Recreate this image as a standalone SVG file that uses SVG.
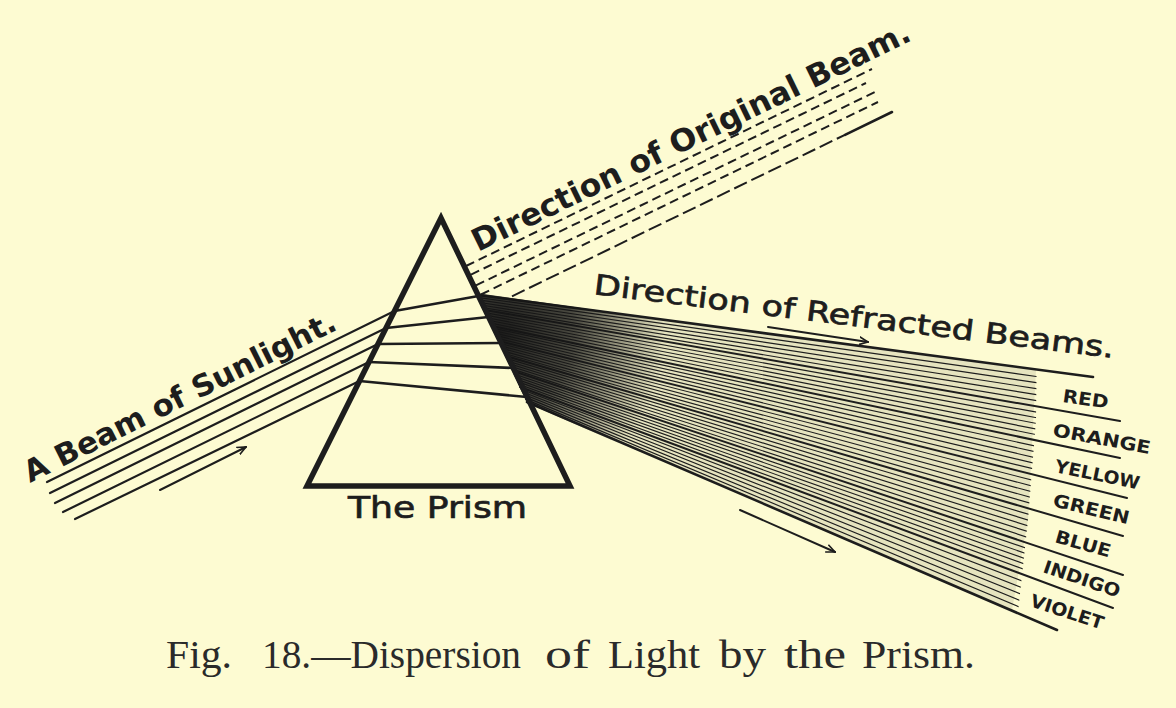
<svg xmlns="http://www.w3.org/2000/svg" width="1176" height="708" viewBox="0 0 1176 708">
<style>
.ink{stroke:#1d1d1d;fill:none;stroke-linecap:round}
.thin{stroke-width:1.15}
.bnd{stroke-width:2}
.inc{stroke-width:2.2}
.dash{stroke-width:2;stroke-dasharray:9 5;stroke-linecap:butt}
.bold{font-family:"DejaVu Sans",sans-serif;font-weight:bold;fill:#1d1d1d}
.med{font-family:"DejaVu Sans",sans-serif;fill:#1d1d1d;stroke:#1d1d1d;stroke-width:0.7}
.col{font-family:"DejaVu Sans",sans-serif;font-weight:bold;font-size:18px;fill:#1d1d1d}
.cap{font-family:"Liberation Serif",serif;font-size:39px;fill:#2a2a2a}
</style>
<defs>
<marker id="arr" viewBox="0 0 10 10" refX="9" refY="5" markerWidth="10" markerHeight="10" markerUnits="userSpaceOnUse" orient="auto">
<path d="M0,1 L9,5 L0,9" fill="none" stroke="#1d1d1d" stroke-width="1.6"/>
</marker>
<clipPath id="thinclip">
<polygon points="460,240 1038,240 1036,420 1028,520 1015,640 460,660"/>
</clipPath>
<clipPath id="fanclip">
<polygon points="476,293 680,322 680,470 527,403"/>
</clipPath>
<radialGradient id="dark" gradientUnits="userSpaceOnUse" cx="500" cy="335" r="165">
<stop offset="0" stop-color="#151515" stop-opacity="0.97"/>
<stop offset="0.45" stop-color="#151515" stop-opacity="0.75"/>
<stop offset="1" stop-color="#151515" stop-opacity="0"/>
</radialGradient>
</defs>
<rect x="0" y="0" width="1176" height="708" fill="#fdfbd2"/>

<g id="refracted-beams">
<polygon points="478,295 1036,370 1028,520 1012,610 527,402" fill="#1d1d1d" fill-opacity="0.1"/>
<g class="ink thin" clip-path="url(#thinclip)">
<path d="M479.2,297.6L1097.5,385.2M480.3,300.1L1102,392.3M481.5,302.7L1106.5,399.5M482.7,305.2L1111,406.7M483.8,307.8L1115.5,413.8"/>
<path d="M486.2,312.9L1120,427.2M487.3,315.4L1120,433.3M488.5,318L1120,439.5M489.7,320.5L1120,445.7M490.8,323.1L1120,451.8"/>
<path d="M493.2,328.2L1121.2,464.7M494.3,330.7L1122.3,471.3M495.5,333.3L1123.5,478M496.7,335.8L1124.7,484.7M497.8,338.4L1125.8,491.3"/>
<path d="M500.2,343.5L1126.3,504.3M501.3,346L1125.7,510.7M502.5,348.5L1125,517M503.7,351.1L1124.3,523.3M504.8,353.6L1123.7,529.7"/>
<path d="M507.2,358.7L1123,542.5M508.3,361.2L1123,549M509.5,363.8L1123,555.5M510.7,366.3L1123,562M511.8,368.9L1123,568.5"/>
<path d="M514.2,374L1121.3,580.5M515.3,376.5L1119.7,586M516.5,379.1L1118,591.5M517.7,381.6L1116.3,597M518.8,384.2L1114.7,602.5"/>
<path d="M521.2,389.2L1113,615.7M522.3,391.8L1113,623.3M523.5,394.3L1113,631M524.7,396.9L1113,638.7M525.8,399.4L1113,646.3"/>
</g>
<g class="ink bnd">
<path d="M478,295L1093,377" stroke-width="2.6"/>
<path d="M485,310L1120,421"/>
<path d="M492,326L1120,458"/>
<path d="M499,341L1127,498"/>
<path d="M506,356L1123,536"/>
<path d="M513,371L1123,575"/>
<path d="M520,387L1113,608"/>
<path d="M527,402L1057,630" stroke-width="2.6"/>
</g>
<rect x="470" y="285" width="220" height="190" fill="url(#dark)" clip-path="url(#fanclip)"/>
</g>

<g id="incident-beam" class="ink inc">
<path d="M47,482L394.5,311M50,493L386,328M55,503L378,344M63,512L369,362M75,519L359.5,381"/>
<path d="M394.5,311L478.5,296M386,328L488.5,317M378,344L501,343M369,362L513,368M359.5,381L527,397" stroke-width="2.5"/>
</g>

<g id="original-direction" class="ink">
<path class="dash" d="M466,266L872,69"/>
<path class="dash" d="M471,274.6L866,83"/>
<path class="dash" d="M476,285.4L877,91"/>
<path class="dash" d="M481,294.5L878,102"/>
<path class="dash" d="M512,296.3L845,134.8" style="stroke-dasharray:14 5"/>
<path d="M845,134.8L892,112" stroke-width="2.6"/>
</g>

<g id="prism">
<polygon points="441,218 307,486 570,486" fill="none" stroke="#1d1d1d" stroke-width="5.5" stroke-linejoin="miter"/>
<text class="med" x="348" y="518" font-size="30" textLength="179" lengthAdjust="spacingAndGlyphs">The Prism</text>
</g>

<g id="arrows" class="ink" stroke-width="2">
<path d="M160,490L246,447" marker-end="url(#arr)"/>
<path d="M768,327L868,342" marker-end="url(#arr)"/>
<path d="M740,510L835,552" marker-end="url(#arr)"/>
</g>

<g id="labels">
<text class="bold" font-size="30" transform="translate(30,483) rotate(-26.5)" textLength="345" lengthAdjust="spacingAndGlyphs">A Beam of Sunlight.</text>
<text class="bold" font-size="31" transform="translate(478,252) rotate(-26)" textLength="484" lengthAdjust="spacingAndGlyphs">Direction of Original Beam.</text>
<text class="med" font-size="28" transform="translate(593,294) rotate(7)" textLength="524" lengthAdjust="spacingAndGlyphs">Direction of Refracted Beams.</text>
<text class="col" transform="translate(1062,402) rotate(8)" textLength="46" lengthAdjust="spacingAndGlyphs">RED</text>
<text class="col" transform="translate(1052,436) rotate(10.5)" textLength="99" lengthAdjust="spacingAndGlyphs">ORANGE</text>
<text class="col" transform="translate(1054,472) rotate(11.6)" textLength="86" lengthAdjust="spacingAndGlyphs">YELLOW</text>
<text class="col" transform="translate(1052,506) rotate(13.5)" textLength="78" lengthAdjust="spacingAndGlyphs">GREEN</text>
<text class="col" transform="translate(1054,542) rotate(15.8)" textLength="57" lengthAdjust="spacingAndGlyphs">BLUE</text>
<text class="col" transform="translate(1042,572) rotate(18.7)" textLength="80" lengthAdjust="spacingAndGlyphs">INDIGO</text>
<text class="col" transform="translate(1029,606) rotate(18)" textLength="76" lengthAdjust="spacingAndGlyphs">VIOLET</text>
</g>

<g id="caption" class="cap">
<text x="166" y="668" textLength="66" lengthAdjust="spacingAndGlyphs">Fig.</text>
<text x="262" y="668" textLength="259" lengthAdjust="spacingAndGlyphs">18.—Dispersion</text>
<text x="545" y="668" textLength="45" lengthAdjust="spacingAndGlyphs">of</text>
<text x="608" y="668" textLength="92" lengthAdjust="spacingAndGlyphs">Light</text>
<text x="719" y="668" textLength="47" lengthAdjust="spacingAndGlyphs">by</text>
<text x="784" y="668" textLength="62" lengthAdjust="spacingAndGlyphs">the</text>
<text x="862" y="668" textLength="113" lengthAdjust="spacingAndGlyphs">Prism.</text>
</g>
</svg>
